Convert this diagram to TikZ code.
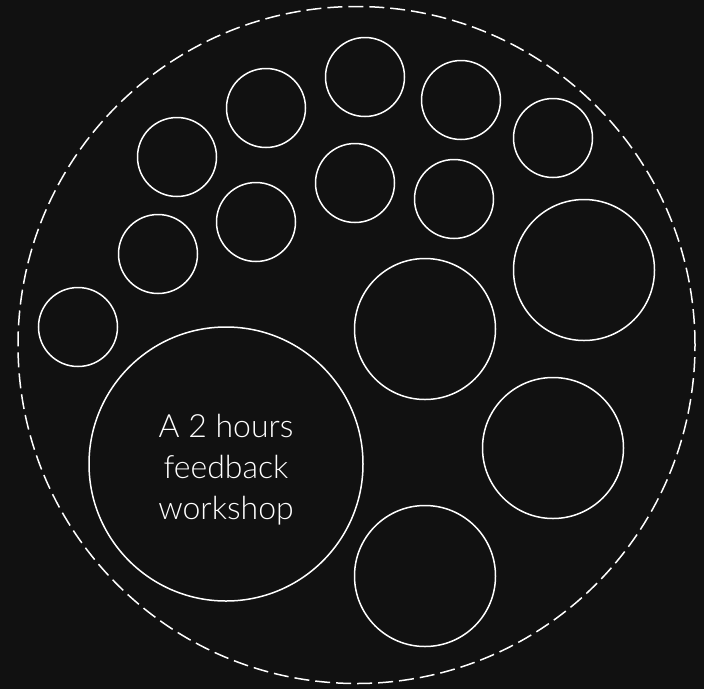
\documentclass[tikz,border=0pt]{standalone}
\usepackage{fontspec}
\setmainfont{Lato}[UprightFont={* Light}]
\usepackage{tikz}
\usetikzlibrary{positioning}
\definecolor{boardbg}{HTML}{111111}

\begin{document}
\begin{tikzpicture}[
  x=1pt, y=-1pt,
  every node/.style={text=white},
  bubble/.style={circle, draw=white, line width=1.5pt, minimum size=79pt, inner sep=0pt},
  bigbubble/.style={bubble, minimum size=141pt},
  topic/.style={bubble, minimum size=274pt, align=center, font=\fontsize{32}{41}\selectfont},
  frame/.style={circle, draw=white, line width=1.5pt, dash pattern=on 15pt off 6pt, minimum size=677pt, inner sep=0pt}
]

% Background
\fill[boardbg] (0,0) rectangle (704,689);
\useasboundingbox (0,0) rectangle (704,689);

% Outer dashed boundary
\node[frame] (frame) at (356.5, 345) {};

% Main topic
\node[topic] (workshop) at (226, 464) {};
\node[align=center, font=\fontsize{32}{41}\selectfont] (label) at (226, 470) {A 2 hours\\feedback\\workshop};

% Small bubbles
\node[bubble] (s1) at (78, 327) {};
\node[bubble] (s2) at (158, 254) {};
\node[bubble] (s3) at (177, 157) {};
\node[bubble] (s4) at (256, 222) {};
\node[bubble] (s5) at (266, 108) {};
\node[bubble] (s6) at (365, 77) {};
\node[bubble] (s7) at (355, 183) {};
\node[bubble] (s8) at (461, 100) {};
\node[bubble] (s9) at (454, 199) {};
\node[bubble] (s10) at (553, 138) {};

% Large bubbles
\node[bigbubble] (b1) at (584, 270) {};
\node[bigbubble] (b2) at (425, 329) {};
\node[bigbubble] (b3) at (553, 448) {};
\node[bigbubble] (b4) at (425, 576) {};

\end{tikzpicture}
\end{document}
